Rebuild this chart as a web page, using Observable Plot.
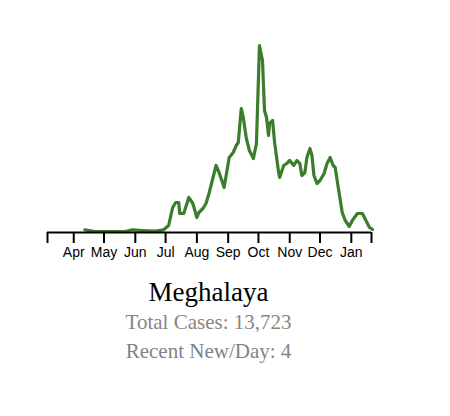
<!DOCTYPE html>
<html><head><meta charset="utf-8">
<script src="https://cdn.jsdelivr.net/npm/d3@7"></script>
<script src="https://cdn.jsdelivr.net/npm/@observablehq/plot@0.6"></script>
<style>
body{margin:0;background:#fff;}
#wrap{width:450px;}
.t{font-family:'Liberation Serif','DejaVu Serif',serif;text-align:center;width:417px;}
#title{font-size:27px;color:#000;margin-top:14px;line-height:32px;}
#total{font-size:21px;color:#8a8580;line-height:29px;}
#recent{font-size:21px;color:#7e848a;line-height:29px;}
</style></head><body>
<div id="wrap"><div id="chart"></div>
<div class="t" id="title">Meghalaya</div>
<div class="t" id="total">Total Cases: 13,723</div>
<div class="t" id="recent">Recent New/Day: 4</div></div>
<script>
// days after 1 Apr 2020, and 7-day average new cases
const dayOffsets = [11,21,51,58,68,81,89,94,98,101,104,105,109,114,118,122,124,128,131,134,138,141,144,149,154,158,161,163,166,168,171,174,178,181,184,187,189,191,193,194,197,199,203,204,208,211,214,218,221,224,226,229,231,234,236,238,241,244,248,251,254,257,259,263,266,269,273,276,281,286,289,293,296];
const newCases = [2.7,1,1,2.7,2,1.3,2.7,7,25,30,30,19,19,35,29,15,20,24,29,39,55,67,60,45,75,80,87,90,124,115,94,82,74,89,187,172,122,115,97,109,112,90,60,55,67,69,72,67,72,69,57,60,75,84,77,57,49,52,59,69,75,67,65,39,20,12,6,12,19,19,13,5,3];
const start = new Date(Date.UTC(2020, 2, 6));
const end = new Date(Date.UTC(2021, 0, 21));
const apr1 = new Date(Date.UTC(2020, 3, 1));
const data = dayOffsets.map((d, i) => ({date: d3.utcDay.offset(apr1, d), v: newCases[i]}));
const months = d3.utcMonth.range(apr1, end);
const ticks = [start, ...months, end];
const fmt = d => (+d === +start || +d === +end) ? "" : d3.utcFormat("%b")(d);

document.getElementById("chart").append(Plot.plot({
  width: 450, height: 262,
  marginLeft: 47, marginRight: 79, marginTop: 44, marginBottom: 30,
  style: {fontFamily: "Liberation Sans, sans-serif", fontSize: "14px", color: "#000"},
  x: {type: "utc", domain: [start, end], label: null},
  y: {domain: [0, 188], axis: null},
  marks: [
    Plot.line(data, {x: "date", y: "v", stroke: "#3b7d2a", strokeWidth: 3.2}),
    Plot.ruleY([0], {stroke: "#000", strokeWidth: 2}),
    Plot.axisX({ticks, tickSize: 11, tickPadding: 4, strokeWidth: 2, tickFormat: fmt, label: null})
  ]
}));
</script></body></html>
